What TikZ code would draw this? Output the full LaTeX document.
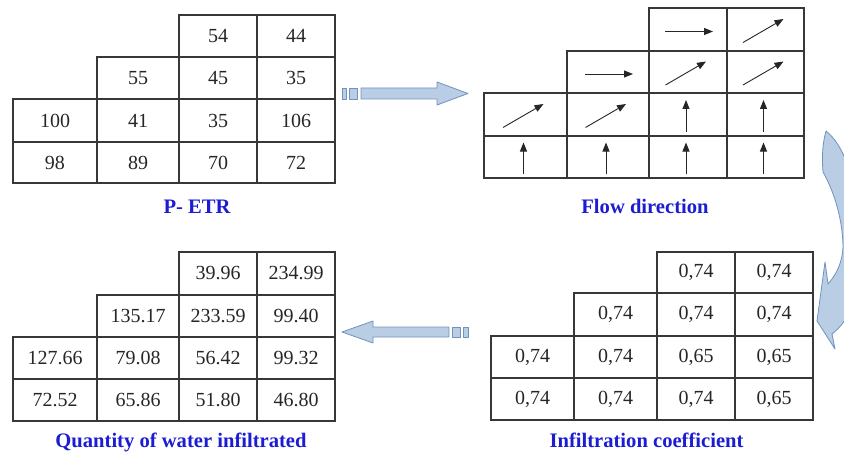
\documentclass[tikz,border=0pt]{standalone}
\usepackage{fontspec}
\setmainfont{Liberation Serif}
\usetikzlibrary{calc,arrows.meta}

\definecolor{gridline}{RGB}{55,55,55}
\definecolor{titleblue}{RGB}{28,28,210}
\definecolor{arrowfill}{RGB}{185,205,229}
\definecolor{arrowedge}{RGB}{112,146,190}

\tikzset{
  cell/.style={draw=gridline, line width=1.3pt, inner sep=0pt,
    font=\fontsize{20}{24}\selectfont, text=black!85},
  title/.style={anchor=base, text=titleblue,
    font=\fontsize{20.6}{24}\selectfont\bfseries},
  flowtip/.style={line width=0.9pt, black!85,
    -{Triangle[length=9pt,width=7pt]}},
  blockarrow/.style={fill=arrowfill, draw=arrowedge, line width=0.8pt,
    line join=round}
}

% cell with corners (x1,y1) and (x2,y2), in pixel units
\newcommand\cellbox[6]{%
  \pgfmathsetmacro\cellw{#4-#2}%
  \pgfmathsetmacro\cellh{#5-#3}%
  \node[cell, minimum width=\cellw pt, minimum height=\cellh pt]
    (#1) at ({(#2+#4)/2},{(#3+#5)/2}) {#6};}

% direction symbols drawn inside a flow cell
\newcommand\flowE[1]{\draw[flowtip] ($(#1.center)+(-23,2)$) -- ($(#1.center)+(25,2)$);}
\newcommand\flowNE[1]{\draw[flowtip] ($(#1.center)+(-22.5,13)$) -- ($(#1.center)+(18,-10.5)$);}
\newcommand\flowN[1]{\draw[flowtip] ($(#1.center)+(-2,17)$) -- ($(#1.center)+(-2,-14.5)$);}

\begin{document}
\begin{tikzpicture}[x=1pt, y=-1pt]
\useasboundingbox (0,0) rectangle (844,452);
\clip (0,0) rectangle (844,452);

% ---------- P - ETR ----------
\cellbox{pa3}{179}{15}{257}{57}{54}
\cellbox{pa4}{257}{15}{335}{57}{44}
\cellbox{pb2}{97}{57}{179}{99}{55}
\cellbox{pb3}{179}{57}{257}{99}{45}
\cellbox{pb4}{257}{57}{335}{99}{35}
\cellbox{pc1}{13}{99}{97}{142}{100}
\cellbox{pc2}{97}{99}{179}{142}{41}
\cellbox{pc3}{179}{99}{257}{142}{35}
\cellbox{pc4}{257}{99}{335}{142}{106}
\cellbox{pd1}{13}{142}{97}{183}{98}
\cellbox{pd2}{97}{142}{179}{183}{89}
\cellbox{pd3}{179}{142}{257}{183}{70}
\cellbox{pd4}{257}{142}{335}{183}{72}
\node[title] (ptitle) at (197,213) {P- ETR};

% ---------- Flow direction ----------
\cellbox{fa3}{649}{8}{727}{51}{}
\cellbox{fa4}{727}{8}{804}{51}{}
\cellbox{fb2}{567}{51}{649}{93}{}
\cellbox{fb3}{649}{51}{727}{93}{}
\cellbox{fb4}{727}{51}{804}{93}{}
\cellbox{fc1}{484}{93}{567}{136}{}
\cellbox{fc2}{567}{93}{649}{136}{}
\cellbox{fc3}{649}{93}{727}{136}{}
\cellbox{fc4}{727}{93}{804}{136}{}
\cellbox{fd1}{484}{136}{567}{178}{}
\cellbox{fd2}{567}{136}{649}{178}{}
\cellbox{fd3}{649}{136}{727}{178}{}
\cellbox{fd4}{727}{136}{804}{178}{}
\flowE{fa3} \flowNE{fa4}
\flowE{fb2} \flowNE{fb3} \flowNE{fb4}
\flowNE{fc1} \flowNE{fc2} \flowN{fc3} \flowN{fc4}
\flowN{fd1} \flowN{fd2} \flowN{fd3} \flowN{fd4}
\node[title] (ftitle) at (645,213) {Flow direction};

% ---------- Infiltration coefficient ----------
\cellbox{ia3}{657}{252}{735}{293}{0,74}
\cellbox{ia4}{735}{252}{813}{293}{0,74}
\cellbox{ib2}{574}{293}{657}{336}{0,74}
\cellbox{ib3}{657}{293}{735}{336}{0,74}
\cellbox{ib4}{735}{293}{813}{336}{0,74}
\cellbox{ic1}{491}{336}{574}{378}{0,74}
\cellbox{ic2}{574}{336}{657}{378}{0,74}
\cellbox{ic3}{657}{336}{735}{378}{0,65}
\cellbox{ic4}{735}{336}{813}{378}{0,65}
\cellbox{id1}{491}{378}{574}{420}{0,74}
\cellbox{id2}{574}{378}{657}{420}{0,74}
\cellbox{id3}{657}{378}{735}{420}{0,74}
\cellbox{id4}{735}{378}{813}{420}{0,65}
\node[title] (ititle) at (646.5,447) {Infiltration coefficient};

% ---------- Quantity of water infiltrated ----------
\cellbox{qa3}{179}{252}{257}{295}{39.96}
\cellbox{qa4}{257}{252}{335}{295}{234.99}
\cellbox{qb2}{97}{295}{179}{337}{135.17}
\cellbox{qb3}{179}{295}{257}{337}{233.59}
\cellbox{qb4}{257}{295}{335}{337}{99.40}
\cellbox{qc1}{13}{337}{97}{379}{127.66}
\cellbox{qc2}{97}{337}{179}{379}{79.08}
\cellbox{qc3}{179}{337}{257}{379}{56.42}
\cellbox{qc4}{257}{337}{335}{379}{99.32}
\cellbox{qd1}{13}{379}{97}{421}{72.52}
\cellbox{qd2}{97}{379}{179}{421}{65.86}
\cellbox{qd3}{179}{379}{257}{421}{51.80}
\cellbox{qd4}{257}{379}{335}{421}{46.80}
\node[title] (qtitle) at (181,447) {Quantity of water infiltrated};

% ---------- block arrows ----------
% P-ETR -> Flow direction
\draw[blockarrow] (342,88) rectangle (346,99);
\draw[blockarrow] (349,88) rectangle (357,99);
\draw[blockarrow] (361,88) -- (437,88) -- (437,82) -- (468,93.5)
  -- (437,105) -- (437,99) -- (361,99) -- cycle;

% Infiltration coefficient -> Quantity of water infiltrated
\draw[blockarrow] (463,327) rectangle (468,337);
\draw[blockarrow] (452,327) rectangle (460,337);
\draw[blockarrow] (449,327) -- (373,327) -- (373,321) -- (342,332)
  -- (373,343) -- (373,337) -- (449,337) -- cycle;

% curved arrow: Flow direction -> Infiltration coefficient
\draw[blockarrow] (826,131)
  .. controls (822,145) and (822,160) .. (823,172)
  .. controls (833,190) and (842,215) .. (843,245)
  .. controls (843,262) and (836,275) .. (828,284)
  -- (825,262) -- (817,321) -- (835,349) -- (832,334)
  .. controls (848,322) and (858,300) .. (860,260)
  .. controls (860,200) and (850,150) .. (826,131) -- cycle;
\end{tikzpicture}
\end{document}
